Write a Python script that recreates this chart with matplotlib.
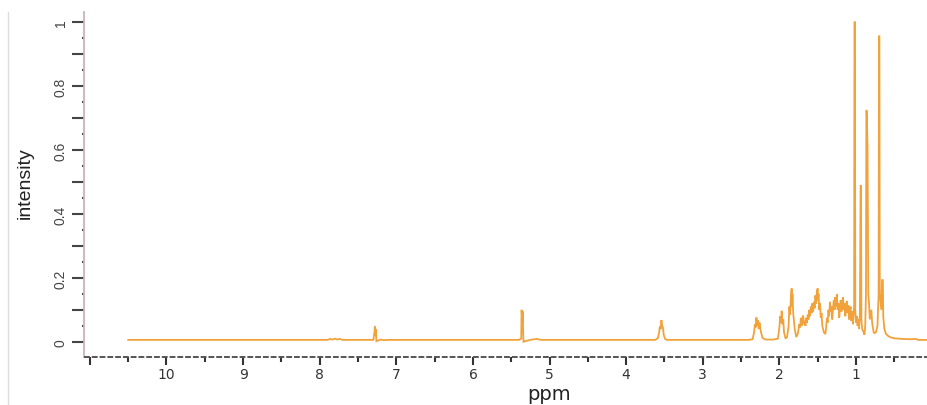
import matplotlib
matplotlib.use("Agg")
import matplotlib.pyplot as plt
from matplotlib.lines import Line2D
from matplotlib.ticker import FixedLocator, MultipleLocator, FuncFormatter

# trace vertices (ppm, intensity), high ppm -> low ppm
aromatic = [(10.5, 0.006), (7.90, 0.006), (7.86, 0.009), (7.83, 0.007), (7.80, 0.010),
            (7.77, 0.007), (7.74, 0.009), (7.70, 0.006), (7.30, 0.006), (7.285, 0.030),
            (7.28, 0.048), (7.275, 0.020), (7.27, 0.040), (7.26, 0.002), (7.24, 0.004),
            (7.20, 0.007), (7.17, 0.005), (7.10, 0.006)]
olefinic = [(5.40, 0.006), (5.37, 0.010), (5.365, 0.100), (5.355, 0.060), (5.35, 0.095),
            (5.345, 0.030), (5.34, 0.000), (5.32, 0.002), (5.25, 0.006), (5.20, 0.008),
            (5.16, 0.009), (5.12, 0.006)]
glycerol = [(3.62, 0.006), (3.585, 0.012), (3.57, 0.030), (3.56, 0.048), (3.55, 0.040),
            (3.54, 0.068), (3.53, 0.050), (3.52, 0.045), (3.51, 0.022), (3.495, 0.010),
            (3.47, 0.006)]
aliphatic = [(2.40, 0.006), (2.35, 0.008), (2.33, 0.030), (2.32, 0.055), (2.31, 0.045),
             (2.30, 0.076), (2.29, 0.050), (2.28, 0.068), (2.27, 0.040), (2.26, 0.060),
             (2.24, 0.030), (2.22, 0.012), (2.18, 0.007), (2.08, 0.007), (2.02, 0.010),
             (2.00, 0.045), (1.99, 0.080), (1.98, 0.060), (1.97, 0.097), (1.96, 0.055),
             (1.95, 0.070), (1.94, 0.030), (1.92, 0.010), (1.90, 0.015), (1.88, 0.050),
             (1.87, 0.110), (1.86, 0.085), (1.85, 0.140), (1.84, 0.167), (1.835, 0.110),
             (1.83, 0.150), (1.82, 0.090), (1.80, 0.040), (1.78, 0.015), (1.76, 0.025),
             (1.74, 0.055), (1.73, 0.045), (1.72, 0.075), (1.71, 0.050), (1.70, 0.070),
             (1.69, 0.082), (1.68, 0.055), (1.67, 0.065), (1.66, 0.050), (1.65, 0.075),
             (1.64, 0.060), (1.63, 0.085), (1.62, 0.070), (1.61, 0.100), (1.60, 0.080),
             (1.59, 0.110), (1.58, 0.090), (1.57, 0.120), (1.56, 0.095), (1.55, 0.125),
             (1.54, 0.105), (1.53, 0.145), (1.52, 0.120), (1.51, 0.160), (1.50, 0.167),
             (1.495, 0.130), (1.49, 0.150), (1.48, 0.100), (1.47, 0.120), (1.46, 0.075),
             (1.45, 0.090), (1.44, 0.050), (1.42, 0.030), (1.40, 0.024), (1.39, 0.045),
             (1.38, 0.075), (1.37, 0.060), (1.36, 0.100), (1.35, 0.080), (1.34, 0.125),
             (1.33, 0.095), (1.32, 0.110), (1.31, 0.070), (1.30, 0.105), (1.29, 0.130),
             (1.28, 0.100), (1.27, 0.140), (1.26, 0.110), (1.25, 0.149), (1.24, 0.100),
             (1.23, 0.120), (1.22, 0.075), (1.21, 0.105), (1.20, 0.130), (1.19, 0.095),
             (1.18, 0.125), (1.17, 0.139), (1.16, 0.100), (1.15, 0.120), (1.14, 0.080),
             (1.13, 0.110), (1.12, 0.128), (1.11, 0.090), (1.10, 0.115), (1.09, 0.070),
             (1.08, 0.100), (1.07, 0.110), (1.06, 0.065), (1.05, 0.095), (1.04, 0.055)]
methyl = [(1.03, 0.090), (1.025, 0.110), (1.02, 1.000), (1.015, 1.000), (1.01, 0.100),
          (1.00, 0.060), (0.99, 0.080), (0.98, 0.050), (0.97, 0.070), (0.96, 0.040),
          (0.95, 0.080), (0.94, 0.488), (0.935, 0.488), (0.93, 0.070), (0.92, 0.040),
          (0.90, 0.030), (0.89, 0.022), (0.88, 0.050), (0.87, 0.150), (0.865, 0.723),
          (0.86, 0.723), (0.855, 0.660), (0.85, 0.610), (0.845, 0.350), (0.84, 0.150),
          (0.83, 0.120), (0.82, 0.070), (0.80, 0.100), (0.79, 0.060), (0.77, 0.030),
          (0.76, 0.027), (0.74, 0.030), (0.72, 0.050), (0.705, 0.150), (0.70, 0.956),
          (0.695, 0.956), (0.69, 0.150), (0.67, 0.100), (0.66, 0.193), (0.65, 0.193),
          (0.645, 0.080), (0.63, 0.040), (0.61, 0.025), (0.58, 0.018), (0.55, 0.014),
          (0.50, 0.011), (0.40, 0.009), (0.30, 0.008), (0.22, 0.009), (0.19, 0.006),
          (0.10, 0.006), (-0.10, 0.005)]

x_ticks = [0, 1, 2, 3, 4, 5, 6, 7, 8, 9, 10, 11]
x_labels = ["0", "1", "2", "3", "4", "5", "6", "7", "8", "9", "10", ""]
y_ticks = [0, 0.1, 0.2, 0.3, 0.4, 0.5, 0.6, 0.7, 0.8, 0.9, 1.0]

trace = aromatic + olefinic + glycerol + aliphatic + methyl
ppm = [p for p, _ in trace]
intensity = [v for _, v in trace]

fig = plt.figure(figsize=(9.28, 4.06), dpi=100)
ax = fig.add_axes([84.5 / 928, 48.5 / 406, 855.8 / 928, 344.5 / 406])

ax.plot(ppm, intensity, color="#f2a23a", lw=1.3, solid_joinstyle="miter")

ax.set_xlim(11.07, -0.1)
ax.set_ylim(-0.046, 1.032)

for s in ["top", "right"]:
    ax.spines[s].set_visible(False)
ax.spines["left"].set_color("#c8b4bb")
ax.spines["left"].set_linewidth(1.3)
ax.spines["bottom"].set_color("#555555")
ax.spines["bottom"].set_linewidth(1.4)
ax.spines["bottom"].set_linestyle((0, (2, 2)))

ax.xaxis.set_major_locator(FixedLocator(x_ticks))
ax.set_xticklabels(x_labels)
ax.xaxis.set_minor_locator(MultipleLocator(0.5))
ax.tick_params(axis="x", which="major", length=5.5, width=1.5, color="#333333",
               labelsize=10, labelcolor="#333333", pad=2)
ax.tick_params(axis="x", which="minor", length=3.5, width=1.5, color="#333333")

ax.yaxis.set_major_locator(FixedLocator(y_ticks))
ax.yaxis.set_minor_locator(MultipleLocator(0.05))
ax.yaxis.set_major_formatter(FuncFormatter(
    lambda v, pos: ("%g" % round(v, 1)) if round(v * 10) % 2 == 0 else ""))
ax.tick_params(axis="y", which="major", length=9, width=1.5, color="#444444",
               labelsize=10, labelcolor="#444444", pad=3, labelrotation=90)
ax.tick_params(axis="y", which="minor", length=1.5, width=1.5, color="#444444")
for t in ax.get_yticklabels():
    t.set_fontfamily("Liberation Sans")
    t.set_va("center")

fig.text(549 / 928, 1 - 395 / 406, "ppm", ha="center", va="center",
         fontsize=14, color="#222222")
fig.text(25 / 928, 1 - 183 / 406, "intensity", ha="center", va="center",
         rotation=90, fontsize=14, family="Liberation Sans", color="#222222")

fig.add_artist(Line2D([8.3 / 928, 8.3 / 928], [0, 1 - 13 / 406], color="#dcdcdc", lw=1))

fig.savefig("out.png", dpi=100)
